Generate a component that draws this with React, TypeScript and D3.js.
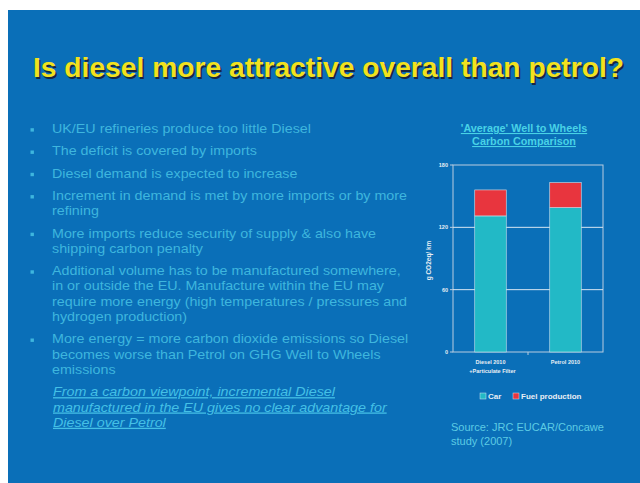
import React from 'react';
import * as d3 from 'd3';

const categories = ['Diesel 2010', 'Petrol 2010'];
const categorySubLabels = ['+Particulate Filter', ''];
const carValues = [131, 139];
const fuelValues = [25, 24];
const yTicks = [0, 60, 120, 180];
const seriesNames = ['Car', 'Fuel production'];

const bullets = [
  ['UK/EU refineries produce too little Diesel'],
  ['The deficit is  covered by imports'],
  ['Diesel demand is expected to increase'],
  ['Increment in demand is met by more imports or by more', 'refining'],
  ['More imports reduce security of supply & also have', 'shipping carbon penalty'],
  [
    'Additional volume has to be manufactured somewhere,',
    'in or outside the EU. Manufacture within the EU may',
    'require more energy (high temperatures / pressures and',
    'hydrogen production)',
  ],
  [
    'More energy = more carbon dioxide emissions so Diesel',
    'becomes worse than Petrol on GHG Well to Wheels',
    'emissions',
  ],
];
const conclusion = [
  'From  a carbon viewpoint, incremental Diesel',
  'manufactured in the EU gives no clear advantage for',
  'Diesel over Petrol',
];

const W = 640;
const H = 483;
const BG = '#0a6fb8';
const TEAL = '#22b9c6';
const RED = '#e8353e';
const TEXT = '#3eb6de';

export default function App() {
  // plot box of the small chart
  const plot = { left: 453, right: 603, top: 165, bottom: 352 };

  const x = d3.scaleBand()
    .domain(categories)
    .range([plot.left, plot.right])
    .paddingInner(0.58)
    .paddingOuter(0.29);

  const y = d3.scaleLinear()
    .domain([0, 180])
    .range([plot.bottom, plot.top]);

  const stacked = categories.map((c, i) => ({
    cat: c,
    car: carValues[i],
    fuel: fuelValues[i],
  }));

  // bullet lines layout
  const lineH = 15.3;
  const gap = 7;
  let cy = 129;
  const bulletRows: { text: string; y: number; first: boolean }[] = [];
  bullets.forEach(b => {
    b.forEach((t, j) => {
      bulletRows.push({ text: t, y: cy, first: j === 0 });
      cy += lineH;
    });
    cy += gap;
  });
  const conclusionY = cy;

  const sans = 'Liberation Sans, Arial, sans-serif';
  const title = 'Is diesel more attractive overall than petrol?';

  return (
    <svg width={W} height={H} style={{ position: 'absolute', left: 0, top: 0 }} fontFamily={sans}>
      <rect x={0} y={0} width={W} height={H} fill="#ffffff" />
      <rect x={8} y={10} width={W - 8} height={H - 10} fill={BG} />

      {/* slide title */}
      <text x={34.5} y={78.5} fontSize={27.5} fontWeight="bold" fill="#1a1a30" opacity={0.85} textLength={591} lengthAdjust="spacingAndGlyphs">
        {title}
      </text>
      <text x={33} y={77} fontSize={27.5} fontWeight="bold" fill="#f2e21e" textLength={591} lengthAdjust="spacingAndGlyphs">
        {title}
      </text>

      {/* bullets */}
      <g fontSize={13} fill={TEXT} style={{ whiteSpace: 'pre' }}>
        {bulletRows.map((r, i) => (
          <g key={i}>
            {r.first && <rect x={30.5} y={r.y - 0.8} width={3.4} height={3.4} fill={TEXT} />}
            <text transform={`translate(52,${r.y + 4}) scale(1.1,1)`}>{r.text}</text>
          </g>
        ))}
        {conclusion.map((t, i) => (
          <text key={'c' + i} transform={`translate(53,${conclusionY + i * lineH + 4}) scale(1.1,1)`} fontStyle="italic" textDecoration="underline" fill="#44c0e6">
            {t}
          </text>
        ))}
      </g>

      {/* chart title */}
      <g fontSize={10.8} fontWeight="bold" fill="#48d2e6" textAnchor="middle">
        <text x={524} y={132} textDecoration="underline">'Average' Well to Wheels</text>
        <text x={524} y={145} textDecoration="underline">Carbon Comparison</text>
      </g>

      {/* plot box and grid */}
      <rect x={plot.left} y={plot.top} width={plot.right - plot.left} height={plot.bottom - plot.top} fill="none" stroke="#b9cde0" strokeWidth={1} />
      {yTicks.filter(t => t > 0 && t < 180).map(t => (
        <line key={t} x1={plot.left} x2={plot.right} y1={y(t)} y2={y(t)} stroke="#d8e6f2" strokeWidth={1} />
      ))}
      {yTicks.map(t => (
        <g key={'t' + t}>
          <line x1={plot.left - 3} x2={plot.left} y1={y(t)} y2={y(t)} stroke="#b9cde0" />
          <text x={plot.left - 5} y={y(t) + 2} textAnchor="end" fontSize={5.5} fontWeight="bold" fill="#e8eef4">{t}</text>
        </g>
      ))}
      <line x1={(plot.left + plot.right) / 2} x2={(plot.left + plot.right) / 2} y1={plot.bottom} y2={plot.bottom + 3} stroke="#b9cde0" />

      {/* bars */}
      {stacked.map(d => (
        <g key={d.cat}>
          <rect x={x(d.cat)} y={y(d.car)} width={x.bandwidth()} height={y(0) - y(d.car)} fill={TEAL} stroke="#d0e4ee" strokeWidth={0.6} />
          <rect x={x(d.cat)} y={y(d.car + d.fuel)} width={x.bandwidth()} height={y(d.car) - y(d.car + d.fuel)} fill={RED} stroke="#d0e4ee" strokeWidth={0.6} />
        </g>
      ))}

      {/* y label */}
      <text transform={`translate(431,${(plot.top + plot.bottom) / 2 + 2}) rotate(-90)`} textAnchor="middle" fontSize={6.5} fontWeight="bold" fill="#e8eef4">
        g CO2eq/ km
      </text>

      {/* x labels */}
      {categories.map((c, i) => (
        <g key={'x' + c} fontSize={5.5} fontWeight="bold" fill="#e8eef4" textAnchor="middle">
          <text x={(x(c) ?? 0) + x.bandwidth() / 2} y={364}>{c}</text>
          {categorySubLabels[i] && (
            <text x={(x(c) ?? 0) + x.bandwidth() / 2 + 2} y={373}>{categorySubLabels[i]}</text>
          )}
        </g>
      ))}

      {/* legend */}
      <g fontSize={8} fontWeight="bold" fill="#e8eef4">
        <rect x={480} y={393} width={6} height={6} fill={TEAL} stroke="#d0e4ee" strokeWidth={0.5} />
        <text x={488} y={399}>{seriesNames[0]}</text>
        <rect x={513} y={393} width={6} height={6} fill={RED} stroke="#d0e4ee" strokeWidth={0.5} />
        <text x={521} y={399}>{seriesNames[1]}</text>
      </g>

      {/* source */}
      <g fontSize={11} fill="#5ccbe4">
        <text x={451} y={431}>Source: JRC EUCAR/Concawe</text>
        <text x={451} y={445}>study (2007)</text>
      </g>
    </svg>
  );
}
